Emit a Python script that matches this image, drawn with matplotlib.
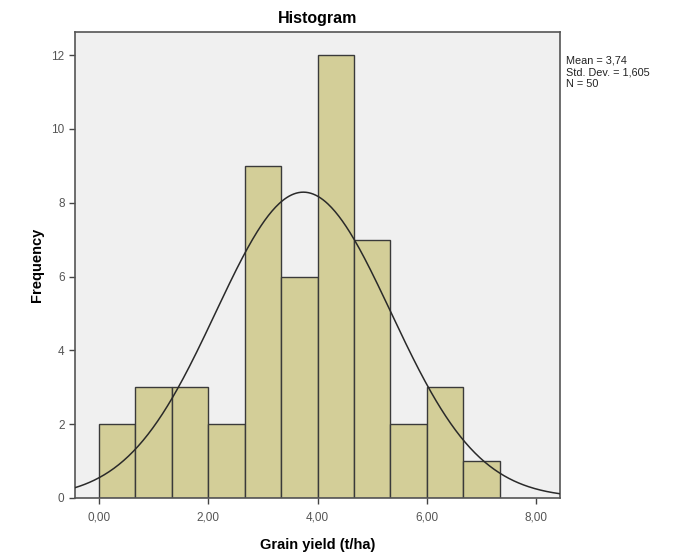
import numpy as np
import matplotlib
matplotlib.use("Agg")
import matplotlib.pyplot as plt

# ---- data ----
bin_width = 2.0 / 3.0
bin_left = [0.0, 0.667, 1.333, 2.0, 2.667, 3.333, 4.0, 4.667, 5.333, 6.0, 6.667]
counts = [2, 3, 3, 2, 9, 6, 12, 7, 2, 3, 1]
mean, sd, n = 3.74, 1.605, 50
xticks = [0, 2, 4, 6, 8]
xtick_labels = ["0,00", "2,00", "4,00", "6,00", "8,00"]
yticks = [0, 2, 4, 6, 8, 10, 12]

plt.rcParams['font.family'] = ['Liberation Sans', 'DejaVu Sans']

fig = plt.figure(figsize=(6.9, 5.53), dpi=100)
ax = fig.add_axes([0.1087, 0.0995, 0.703, 0.843])
ax.set_facecolor("#f0f0f0")

ax.bar(bin_left, counts, width=bin_width, align="edge",
       color="#d3ce98", edgecolor="#3a3a3a", linewidth=1.0, zorder=2)

# normal curve scaled to counts
xs = np.linspace(-0.44, 8.44, 400)
ys = n * bin_width / (sd * np.sqrt(2 * np.pi)) * np.exp(-0.5 * ((xs - mean) / sd) ** 2)
ax.plot(xs, ys, color="#2a2a2a", linewidth=1.1, zorder=3)

ax.set_xlim(-0.44, 8.44)
ax.set_ylim(0, 12.63)
ax.set_xticks(xticks)
ax.set_xticklabels(xtick_labels)
ax.set_yticks(yticks)
ax.tick_params(direction="out", length=4, width=1, colors="#444444",
               labelsize=8.5, labelcolor="#555555")
ax.tick_params(axis="x", pad=6)
for s in ax.spines.values():
    s.set_color("#555555")
    s.set_linewidth(1.2)

ax.set_title("Histogram", fontsize=11.5, fontweight="bold", pad=6)
ax.set_xlabel("Grain yield (t/ha)", fontsize=10.5, fontweight="bold", labelpad=10)
ax.set_ylabel("Frequency", fontsize=10.5, fontweight="bold", labelpad=5)

fig.text(0.820, 0.899, f"Mean = 3,74\nStd. Dev. = 1,605\nN = {n}",
         fontsize=7.8, va="top", ha="left", linespacing=1.2, color="#222222")

fig.savefig("out.png", dpi=100)
